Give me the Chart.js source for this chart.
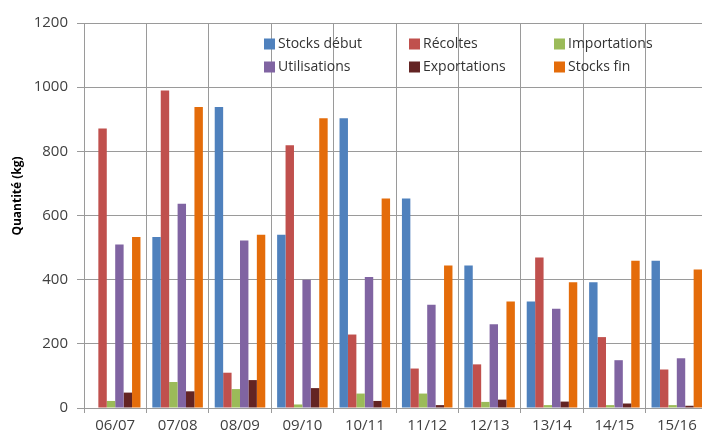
<!DOCTYPE html>
<html><head><meta charset="utf-8">
<script src="https://cdn.jsdelivr.net/npm/chart.js@4/dist/chart.umd.min.js"></script>
<style>
html,body{margin:0;padding:0;background:#fff;overflow:hidden;width:702px;height:437px;}
#wrap{width:712px;height:437px;position:relative;}
canvas{display:block;}
</style></head>
<body><div id="wrap"><canvas id="c" width="712" height="437"></canvas></div>
<script>
const categories = ["06/07","07/08","08/09","09/10","10/11","11/12","12/13","13/14","14/15","15/16"];
const stocksDebut  = [0, 533, 938, 540, 903, 653, 444, 332, 392, 459];
const recoltes     = [871, 990, 110, 819, 229, 123, 136, 469, 221, 120];
const importations = [22, 81, 59, 11, 45, 45, 19, 9, 9, 9];
const utilisations = [510, 637, 522, 400, 408, 322, 261, 309, 149, 155];
const exportations = [48, 52, 87, 62, 22, 9, 26, 20, 14, 7];
const stocksFin    = [533, 938, 540, 903, 653, 444, 332, 392, 459, 432];
const yTicks = [0, 200, 400, 600, 800, 1000, 1200];
const yTitle = "Quantité (kg)";

const FONT = "'Open Sans', 'Liberation Sans', sans-serif";
const GRID = "#9a9a9a";

function ds(label, data, color){
  return {label, data, backgroundColor: color, borderWidth: 0,
          categoryPercentage: 0.81, barPercentage: 1.0};
}

const legendPlugin = {
  id: 'insideLegend',
  afterDraw(chart){
    const ctx = chart.ctx;
    const cols = [264, 409, 554];
    const rows = [44, 67];
    ctx.save();
    ctx.font = "14px " + FONT;
    ctx.textBaseline = 'middle';
    ctx.textAlign = 'left';
    chart.data.datasets.forEach((d, i) => {
      const x = cols[i % 3], y = rows[Math.floor(i / 3)];
      ctx.fillStyle = d.backgroundColor;
      ctx.fillRect(x, y - 5.5, 11, 11);
      ctx.fillStyle = '#333';
      ctx.fillText(d.label, x + 14, y);
    });
    ctx.restore();
  }
};

const titlePlugin = {
  id: 'yTitle',
  afterDraw(chart){
    const ctx = chart.ctx;
    ctx.save();
    ctx.translate(18, 196);
    ctx.rotate(-Math.PI/2);
    ctx.font = "bold 12px " + FONT;
    ctx.fillStyle = '#000';
    ctx.textAlign = 'center';
    ctx.textBaseline = 'middle';
    ctx.fillText(yTitle, 0, 0);
    ctx.restore();
  }
};

new Chart(document.getElementById('c'), {
  type: 'bar',
  data: {
    labels: categories,
    datasets: [
      ds("Stocks début", stocksDebut, "#4F81BD"),
      ds("Récoltes", recoltes, "#C0504D"),
      ds("Importations", importations, "#9BBB59"),
      ds("Utilisations", utilisations, "#8064A2"),
      ds("Exportations", exportations, "#632423"),
      ds("Stocks fin", stocksFin, "#E46C0A")
    ]
  },
  options: {
    responsive: false,
    animation: false,
    devicePixelRatio: 1,
    layout: {padding: {left: 0, top: 23, right: 4, bottom: 0}},
    plugins: {legend: {display: false}, tooltip: {enabled: false}},
    scales: {
      x: {
        offset: true,
        grid: {offset: true, color: GRID, lineWidth: 1, tickLength: 5, tickColor: GRID},
        border: {color: GRID},
        ticks: {font: {family: FONT, size: 15}, color: '#404040', padding: 4, maxRotation: 0},
        afterFit(s){ s.height = 29; }
      },
      y: {
        min: 0, max: 1200,
        afterBuildTicks(s){ s.ticks = yTicks.map(v => ({value: v})); },
        grid: {color: GRID, lineWidth: 1, tickLength: 7, tickColor: GRID},
        border: {color: GRID},
        ticks: {font: {family: FONT, size: 15}, color: '#404040', padding: 9,
                callback: v => String(v)},
        afterFit(s){ s.width = 84; }
      }
    }
  },
  plugins: [legendPlugin, titlePlugin]
});
</script>
</body></html>
